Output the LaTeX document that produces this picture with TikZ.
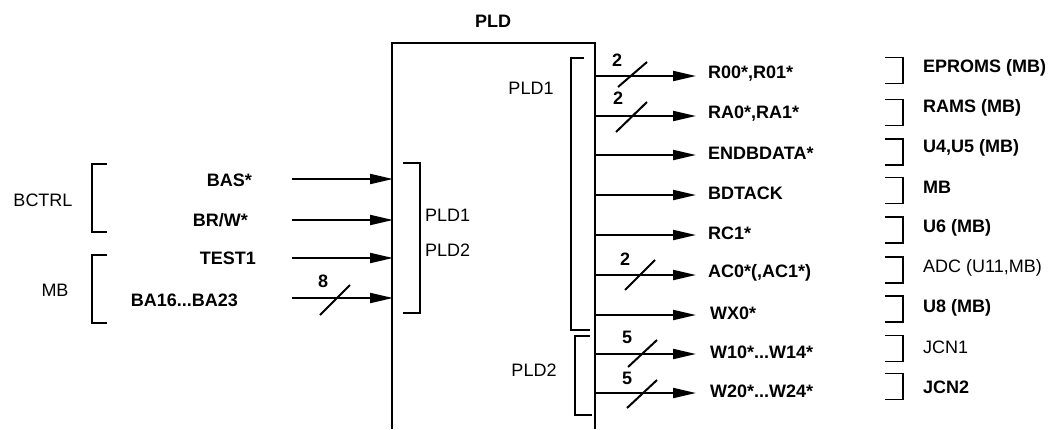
\documentclass[tikz,border=0pt]{standalone}
\usepackage{fontspec}
\setmainfont{Liberation Sans}
\usetikzlibrary{arrows.meta}
\begin{document}
\begin{tikzpicture}[x=1pt,y=-1pt,
  ln/.style={line width=2pt},
  brk/.style={line width=1.8pt},
  arr/.style={ln,-{Triangle[length=23pt,width=10pt]}},
  lbl/.style={inner sep=0pt,font=\fontsize{18}{21}\selectfont\bfseries},
  lblr/.style={inner sep=0pt,font=\fontsize{18}{21}\selectfont},
  ]
\useasboundingbox (0,0) rectangle (1056,429);
% main box (open at the bottom)
\coordinate (bl) at (392,429);
\coordinate (tl) at (392,43);
\coordinate (tr) at (595,43);
\coordinate (br) at (595,429);
\draw[ln] (bl) -- (tl) -- (tr) -- (br);
\node[lbl] (pld) at (493,21) {PLD};

% ---------- left side ----------
\node[lblr] (bctrl) at (43,200) {BCTRL};
\node[lblr] (mbl) at (55,290) {MB};
\draw[brk] (107,164) -- (92,164) -- (92,232) -- (107,232);
\draw[brk] (107,255) -- (92,255) -- (92,323) -- (107,323);

\node[lbl,anchor=east] (bas) at (252,180) {BAS*};
\node[lbl,anchor=east] (brw) at (248,220) {BR/W*};
\node[lbl,anchor=east] (test) at (256,258) {TEST1};
\node[lbl,anchor=east] (ba) at (238,300) {BA16...BA23};

\coordinate (i1s) at (292,179); \coordinate (i1e) at (393,179);
\coordinate (i2s) at (292,220); \coordinate (i2e) at (393,220);
\coordinate (i3s) at (292,258); \coordinate (i3e) at (393,258);
\coordinate (i4s) at (292,298); \coordinate (i4e) at (393,298);
\draw[arr] (i1s) -- (i1e);
\draw[arr] (i2s) -- (i2e);
\draw[arr] (i3s) -- (i3e);
\draw[arr] (i4s) -- (i4e);
\draw[ln] (320,315) -- (350,285);
\node[lbl] (n8) at (323,281) {8};

% inner left bracket
\draw[brk] (403,163) -- (420,163) -- (420,313) -- (403,313);
\node[lblr,anchor=west] (lp1) at (425,215) {PLD1};
\node[lblr,anchor=west] (lp2) at (425,250) {PLD2};

% inner right brackets
\draw[brk] (584,58) -- (571,58) -- (571,330) -- (590,330);
\draw[brk] (590,336) -- (575,336) -- (575,415) -- (592,415);
\node[lblr] (rp1) at (531,88) {PLD1};
\node[lblr] (rp2) at (534,370) {PLD2};

% ---------- outputs ----------
\foreach \n/\y in {1/76,2/116,3/155,4/195,5/235,6/275,7/315,8/354,9/393}{
  \coordinate (o\n s) at (595,\y);
  \coordinate (o\n e) at (696,\y);
  \draw[arr] (o\n s) -- (o\n e);
}
\node[lbl,anchor=west] (s1) at (708,74) {R00*,R01*};
\node[lbl,anchor=west] (s2) at (708,114) {RA0*,RA1*};
\node[lbl,anchor=west] (s3) at (708,153) {ENDBDATA*};
\node[lbl,anchor=west] (s4) at (708,193) {BDTACK};
\node[lbl,anchor=west] (s5) at (708,233) {RC1*};
\node[lbl,anchor=west] (s6) at (708,273) {AC0*(,AC1*)};
\node[lbl,anchor=west] (s7) at (710,313) {WX0*};
\node[lbl,anchor=west] (s8) at (710,352) {W10*...W14*};
\node[lbl,anchor=west] (s9) at (710,391) {W20*...W24*};

% bus slashes
\draw[ln] (618,87) -- (647,62);  \node[lbl] (b1) at (617,60) {2};
\draw[ln] (616,132) -- (647,102); \node[lbl] (b2) at (618,98) {2};
\draw[ln] (625,290) -- (655,260); \node[lbl] (b6) at (625,259) {2};
\draw[ln] (628,367) -- (657,340); \node[lbl] (b8) at (627,337) {5};
\draw[ln] (627,408) -- (657,380); \node[lbl] (b9) at (627,378) {5};

% destination brackets
\foreach \c in {70.5,112.5,152,190.5,230,270,309,348.5,386.5}{
  \draw[brk] (885,\c-13) -- (903,\c-13) -- (903,\c+13) -- (885,\c+13);
}
\node[lbl,anchor=west] (d1) at (923,68) {EPROMS (MB)};
\node[lbl,anchor=west] (d2) at (923,108) {RAMS (MB)};
\node[lbl,anchor=west] (d3) at (923,148) {U4,U5 (MB)};
\node[lbl,anchor=west] (d4) at (923,187) {MB};
\node[lbl,anchor=west] (d5) at (923,228) {U6 (MB)};
\node[lblr,anchor=west] (d6) at (923,268) {ADC (U11,MB)};
\node[lbl,anchor=west] (d7) at (923,308) {U8 (MB)};
\node[lblr,anchor=west] (d8) at (923,347) {JCN1};
\node[lbl,anchor=west] (d9) at (923,387) {JCN2};
\end{tikzpicture}
\end{document}
